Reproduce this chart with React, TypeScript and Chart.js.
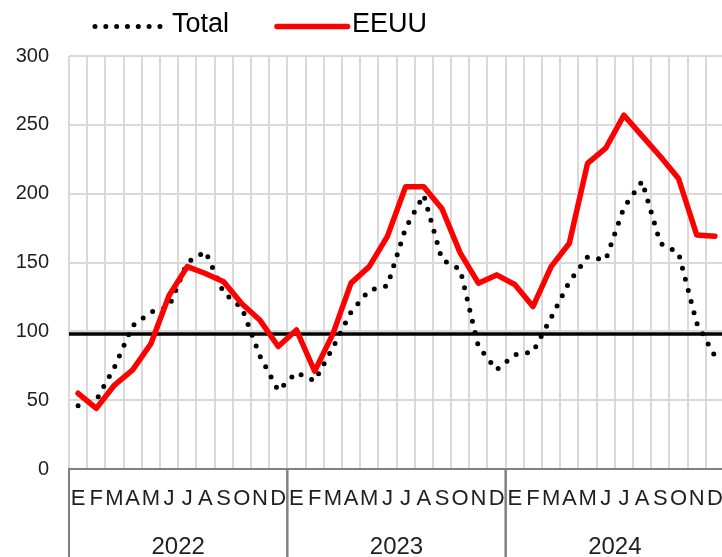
import React, { useEffect, useRef } from "react";
import { Chart, registerables } from "chart.js";

Chart.register(...registerables);

// ---- data ----
const months = ["E", "F", "M", "A", "M", "J", "J", "A", "S", "O", "N", "D"];
const years = ["2022", "2023", "2024"];

const totalValues = [
  46, 50, 74, 104, 114, 118, 150, 158, 128, 117, 82, 57,
  70, 64, 88, 114, 130, 133, 175, 199, 152, 145, 89, 72,
  83, 85, 110, 136, 154, 152, 190, 209, 164, 157, 106, 82,
];

const eeuuValues = [
  55, 44, 61, 72, 91, 126, 147, 142, 136, 120, 108, 89,
  101, 71, 98, 135, 147, 169, 205, 205, 189, 157, 135, 141,
  134, 118, 147, 164, 222, 233, 257, 242, 227, 211, 170, 169,
];

const referenceLevel = 98;
const yMin = 0;
const yMax = 300;
const yStep = 50;

const seriesNames = ["Total", "EEUU"];

const FONT = "'Liberation Sans', Arial, sans-serif";
const GRID = "#d9d9d9";
const AXIS = "#808080";
const TEXT = "#1f1f1f";

const labels = years.flatMap(() => months);

const refLinePlugin = {
  id: "refLine",
  beforeDatasetsDraw(chart: any) {
    const { ctx, chartArea, scales } = chart;
    const y = scales.y.getPixelForValue(referenceLevel);
    ctx.save();
    ctx.strokeStyle = "#000000";
    ctx.lineWidth = 3.5;
    ctx.beginPath();
    ctx.moveTo(chartArea.left, y);
    ctx.lineTo(chartArea.right, y);
    ctx.stroke();
    ctx.restore();
  },
};

const yearAxisPlugin = {
  id: "yearAxis",
  afterDraw(chart: any) {
    const { ctx, chartArea, scales, height } = chart;
    const x = scales.x;
    ctx.save();
    ctx.strokeStyle = AXIS;
    ctx.lineWidth = 2;
    ctx.fillStyle = TEXT;
    ctx.font = `24px ${FONT}`;
    ctx.textAlign = "center";
    ctx.textBaseline = "middle";
    years.forEach((yr, k) => {
      const left = x.getPixelForValue(k * months.length - 0.5);
      const right = x.getPixelForValue(k * months.length + months.length - 0.5);
      ctx.beginPath();
      ctx.moveTo(left, chartArea.bottom);
      ctx.lineTo(left, height);
      ctx.moveTo(right, chartArea.bottom);
      ctx.lineTo(right, height);
      ctx.stroke();
      ctx.fillText(yr, (left + right) / 2, chartArea.bottom + 78);
    });
    ctx.restore();
  },
};

const legendPlugin = {
  id: "customLegend",
  afterDraw(chart: any) {
    const { ctx } = chart;
    const ds = chart.data.datasets;
    const items = [
      { ds: ds[0], x0: 95, x1: 160, tx: 172, dots: 7 },
      { ds: ds[1], x0: 277, x1: 347, tx: 352, dots: 0 },
    ];
    ctx.save();
    items.forEach((it) => {
      ctx.beginPath();
      ctx.strokeStyle = it.ds.borderColor;
      ctx.lineWidth = it.ds.borderWidth;
      ctx.lineCap = "round";
      if (it.dots > 1) {
        ctx.setLineDash([0, (it.x1 - it.x0) / (it.dots - 1) - 0.01]);
      } else {
        ctx.setLineDash([]);
      }
      ctx.moveTo(it.x0, 26.5);
      ctx.lineTo(it.x1 + 0.5, 26.5);
      ctx.stroke();
      ctx.setLineDash([]);
      ctx.fillStyle = "#000000";
      ctx.font = `27px ${FONT}`;
      ctx.textAlign = "left";
      ctx.textBaseline = "middle";
      ctx.fillText(it.ds.label, it.tx, 25);
    });
    ctx.restore();
  },
};

export default function App() {
  const canvasRef = useRef<HTMLCanvasElement | null>(null);

  useEffect(() => {
    if (!canvasRef.current) return;
    const chart = new Chart(canvasRef.current, {
      type: "line",
      data: {
        labels,
        datasets: [
          {
            label: seriesNames[0],
            data: totalValues,
            borderColor: "#000000",
            borderWidth: 5,
            borderDash: [0, 11.5],
            borderCapStyle: "round",
            borderJoinStyle: "round",
            pointRadius: 0,
            fill: false,
            tension: 0,
            order: 1,
          },
          {
            label: seriesNames[1],
            data: eeuuValues,
            borderColor: "#ff0000",
            borderWidth: 5.5,
            borderCapStyle: "round",
            borderJoinStyle: "round",
            pointRadius: 0,
            fill: false,
            tension: 0,
            order: 0,
          },
        ],
      },
      options: {
        animation: false,
        responsive: false,
        layout: { padding: { top: 56, right: 11, left: 0, bottom: 0 } },
        plugins: {
          legend: { display: false },
          tooltip: { enabled: false },
        },
        scales: {
          x: {
            type: "category",
            offset: true,
            grid: {
              offset: true,
              color: GRID,
              lineWidth: 2,
              drawTicks: false,
            },
            border: { display: true, color: AXIS, width: 2 },
            ticks: {
              autoSkip: false,
              maxRotation: 0,
              minRotation: 0,
              padding: 17,
              color: TEXT,
              font: { family: FONT, size: 22 },
            },
            afterFit(scale: any) {
              scale.height = 88;
            },
          },
          y: {
            min: yMin,
            max: yMax,
            ticks: {
              stepSize: yStep,
              padding: 20,
              color: TEXT,
              font: { family: FONT, size: 20 },
            },
            grid: { color: GRID, lineWidth: 2, drawTicks: false },
            border: { display: false },
            afterFit(scale: any) {
              scale.width = 69;
            },
          },
        },
      },
      plugins: [refLinePlugin, yearAxisPlugin, legendPlugin],
    });
    return () => chart.destroy();
  }, []);

  return (
    <div
      style={{
        position: "fixed",
        left: 0,
        top: 0,
        width: 722,
        height: 557,
        overflow: "hidden",
        background: "#ffffff",
      }}
    >
      <canvas
        ref={canvasRef}
        width={740}
        height={557}
        style={{ display: "block", width: 740, height: 557 }}
      />
    </div>
  );
}
